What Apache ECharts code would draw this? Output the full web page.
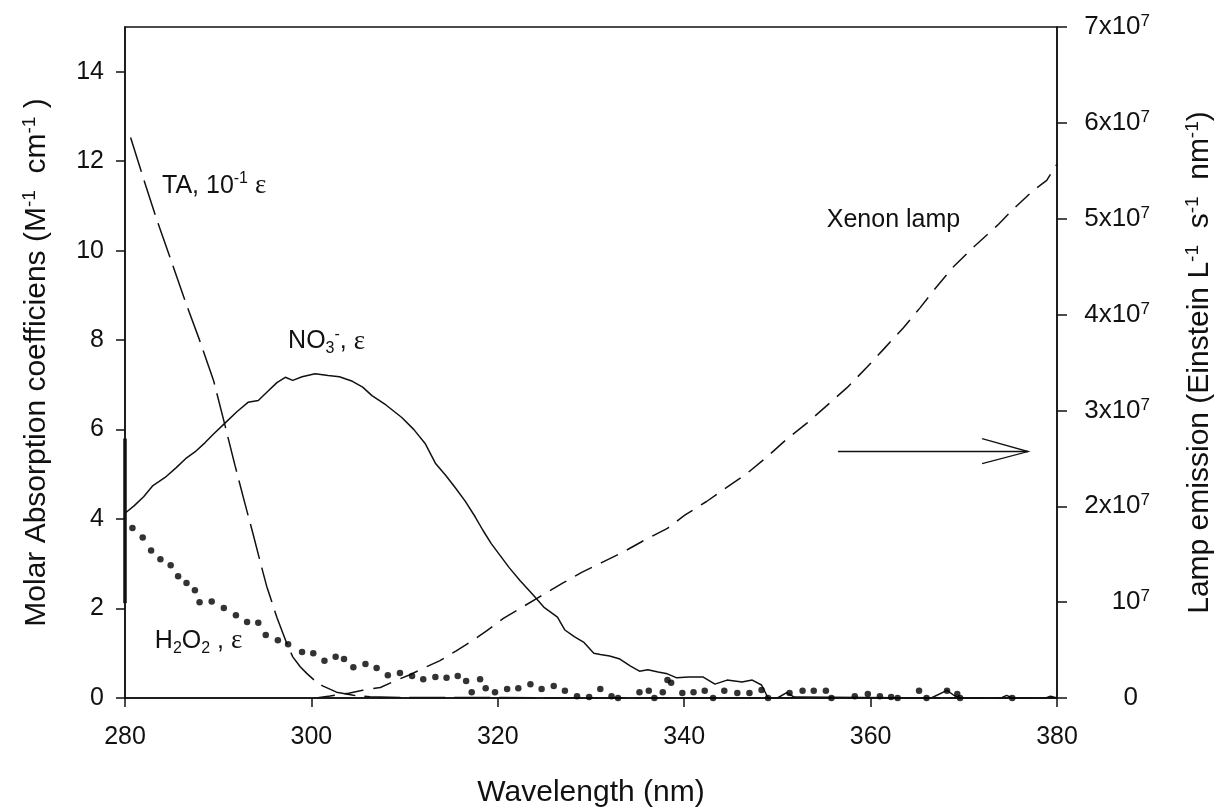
<!DOCTYPE html>
<html><head><meta charset="utf-8">
<script src="https://cdn.jsdelivr.net/npm/echarts@6/dist/echarts.min.js"></script>
<style>html,body{margin:0;padding:0;background:#fff}#c{width:1216px;height:809px}</style>
</head><body><div id="c"></div>
<script>
// ---------- data ----------
const xTicks = [280, 300, 320, 340, 360, 380];
const leftTicks = [0, 2, 4, 6, 8, 10, 12, 14];
const rightTicks = [0, 1e7, 2e7, 3e7, 4e7, 5e7, 6e7, 7e7];

// NO3- molar absorption coefficient [wavelength nm, epsilon]
const no3Points = [
  [280,4.13],[281,4.3],[282,4.5],[283,4.75],[284.3,4.93],[285.5,5.15],[286.5,5.35],[287.5,5.5],
  [288.6,5.71],[289.5,5.9],[290.7,6.14],[292,6.4],[293.2,6.61],[294.3,6.65],[295.3,6.85],[296.3,7.05],
  [297.2,7.17],[298.0,7.10],[299,7.18],[300.4,7.25],[301.8,7.21],[303,7.18],[304.4,7.08],[305.5,6.95],
  [306.5,6.76],[308,6.55],[309.7,6.27],[311,6.0],[312.2,5.69],[313.3,5.25],[314.4,4.98],[315.4,4.71],
  [316.5,4.4],[317.6,4.04],[318.4,3.75],[319.3,3.45],[320.2,3.2],[321.2,2.92],[322.4,2.62],[323.8,2.30],
  [325,2.02],[326.4,1.81],[327.2,1.52],[328.2,1.37],[329.2,1.25],[330.3,1.0],[331,0.97],[332,0.94],
  [333.1,0.87],[334.2,0.72],[335.2,0.60],[336.1,0.63],[337.2,0.58],[338.2,0.54],[339.2,0.45],[340.5,0.47],
  [342,0.47],[343.3,0.31],[344.6,0.40],[346.2,0.36],[347.3,0.40],[348.3,0.29],[349,0],[350,0],
  [351,0.12],[351.8,0.02],[366.5,0],[368.2,0.17],[369,0.05],[369.6,0],[374,0],[374.6,0.06],
  [375.2,0],[378.8,0],[379.3,0.04],[380,0]
];

// TA, 10^-1 epsilon
const taPoints = [
  [280.6,12.53],[282,11.6],[283.4,10.7],[285,9.75],[286.5,8.85],[288,8.0],[289.5,7.1],[290.6,6.2],
  [291.8,5.2],[292.8,4.4],[293.7,3.7],[294.5,3.05],[295.2,2.5],[296.3,1.8],[297.3,1.25],[298,0.92],
  [298.8,0.7],[299.5,0.55],[300.3,0.4],[301.2,0.27],[302.7,0.13],[304.5,0.06],[306.3,0.03],[310,0.01],
  [380,0]
];

// H2O2 epsilon (dots)
const h2o2Points = [
  [280.8,3.80],[281.9,3.59],[282.8,3.30],[283.8,3.10],[284.9,2.97],[285.7,2.72],[286.6,2.57],[287.5,2.41],
  [288.0,2.14],[289.3,2.16],[290.6,2.01],[291.9,1.85],[293.1,1.70],[294.3,1.68],[295.1,1.41],[296.4,1.29],
  [297.5,1.20],[299.0,1.03],[300.2,1.00],[301.4,0.83],[302.6,0.92],[303.5,0.87],[304.5,0.69],[305.8,0.76],
  [307.0,0.67],[308.2,0.51],[309.5,0.56],[310.8,0.49],[312.0,0.42],[313.3,0.47],[314.5,0.45],[315.7,0.49],
  [316.6,0.38],[317.2,0.13],[318.1,0.42],[318.7,0.22],[319.7,0.13],[321.0,0.20],[322.2,0.22],[323.5,0.31],
  [324.7,0.20],[326.0,0.27],[327.2,0.16],[328.5,0.04],[329.8,0.02],[331.0,0.20],[332.2,0.04],[332.9,0.0],
  [335.2,0.13],[336.2,0.16],[336.8,0.0],[337.7,0.13],[338.2,0.40],[338.6,0.34],[339.8,0.11],[341.0,0.13],
  [342.2,0.16],[343.1,0.0],[344.3,0.16],[345.7,0.11],[347.0,0.11],[348.3,0.18],[349.0,0.0],[351.3,0.11],
  [352.7,0.16],[353.9,0.16],[355.2,0.16],[355.8,0.0],[358.3,0.04],[359.7,0.09],[361.0,0.04],[362.2,0.02],
  [362.9,0.0],[365.2,0.16],[366.0,0.0],[368.2,0.16],[369.3,0.09],[369.6,0.0],[375.2,0.0]
];

// Xenon lamp emission (Einstein L-1 s-1 nm-1), right axis
const xenonPoints = [
  [300.5,0],[302,0.2e6],[304,0.5e6],[305.5,0.8e6],[307.4,1.1e6],[309,1.8e6],[310.5,2.4e6],[312,3.1e6],
  [313.8,3.9e6],[315.5,4.9e6],[317,5.8e6],[318.8,7.0e6],[320.6,8.3e6],[322.5,9.4e6],[324.2,10.4e6],
  [327,12.0e6],[329,13.1e6],[331.3,14.2e6],[333.4,15.2e6],[335.8,16.5e6],[338.2,17.7e6],[340.1,19.1e6],
  [342.4,20.5e6],[344.6,22.0e6],[346.7,23.4e6],[348.7,25.0e6],[351,27.0e6],[353.2,28.7e6],[355.3,30.5e6],
  [357.5,32.4e6],[359.6,34.5e6],[361.5,36.5e6],[363.5,38.6e6],[365.3,40.7e6],[367,42.8e6],[368.8,44.9e6],
  [371,47.0e6],[373.6,49.3e6],[375.3,51.0e6],[377.4,52.9e6],[378.9,54.0e6],[380,55.7e6]
];

// thick segment drawn on the left axis in the original
const leftBarPoints = [[280,2.12],[280,5.8]];

// annotation anchors (data coordinates, left axis)
const labelAnchors = {
  ta: [283.97, 11.45],
  no3: [297.5, 7.97],
  h2o2: [283.2, 1.27],
  xenon: [355.3, 10.69]
};
const arrowFrom = [356.5, 5.51];
const arrowTo = [376.9, 5.51];

// ---------- chart ----------
const FONT = 'Liberation Sans';
const SERIF = 'Liberation Serif';
const ink = '#111';

const chart = echarts.init(document.getElementById('c'), null, {renderer: 'canvas'});

const titleRich = {
  a: {fontSize: 30, fontFamily: FONT, color: ink, lineHeight: 34},
  s: {fontSize: 19, fontFamily: FONT, color: ink, verticalAlign: 'top', lineHeight: 34}
};

const option = {
  animation: false,
  backgroundColor: '#fff',
  textStyle: {fontFamily: FONT},
  grid: {left: 125, right: 159, top: 27, bottom: 111, show: true, borderColor: ink, borderWidth: 1.5,
         backgroundColor: 'transparent', containLabel: false, outerBoundsMode: 'none'},
  xAxis: {
    type: 'value', min: 280, max: 380, interval: 20,
    axisLine: {show: true, lineStyle: {color: ink, width: 1.5}},
    axisTick: {show: true, length: 9, lineStyle: {color: ink, width: 1.5}, customValues: xTicks},
    axisLabel: {fontSize: 25, color: ink, margin: 27, fontFamily: FONT, customValues: xTicks},
    splitLine: {show: false},
    name: 'Wavelength (nm)', nameLocation: 'middle', nameGap: 80,
    nameTextStyle: {fontSize: 30, color: ink, fontFamily: FONT}
  },
  yAxis: [
    {
      type: 'value', min: 0, max: 15, position: 'left',
      axisLine: {show: true, lineStyle: {color: ink, width: 1.5}},
      axisTick: {show: true, length: 9, lineStyle: {color: ink, width: 1.5}, customValues: leftTicks},
      axisLabel: {fontSize: 25, color: ink, margin: 21, fontFamily: FONT, customValues: leftTicks},
      splitLine: {show: false},
      name: '{a|Molar Absorption coefficiens (M}{s|-1}{a|  cm}{s|-1}{a| )}',
      nameLocation: 'middle', nameGap: 71, nameRotate: 90,
      nameTextStyle: {rich: titleRich}
    },
    {
      type: 'value', min: 0, max: 7e7, interval: 1e7, position: 'right',
      axisLine: {show: true, lineStyle: {color: ink, width: 1.5}},
      axisTick: {show: true, length: 10, lineStyle: {color: ink, width: 1.5}},
      axisLabel: {
        margin: 93, align: 'right', color: ink,
        formatter: function (v) {
          const n = Math.round(v / 1e7);
          if (n === 0) return '{z|0}';
          if (n === 1) return '{b|10}{s|7}';
          return '{b|' + n + 'x10}{s|7}';
        },
        rich: {
          b: {fontSize: 26, fontFamily: FONT, color: ink, lineHeight: 28},
          z: {fontSize: 26, fontFamily: FONT, color: ink, lineHeight: 28, padding: [0, 12, 0, 0]},
          s: {fontSize: 17, fontFamily: FONT, color: ink, verticalAlign: 'top', lineHeight: 28}
        }
      },
      splitLine: {show: false},
      name: '{a|Lamp emission (Einstein L}{s|-1}{a|  s}{s|-1}{a|  nm}{s|-1}{a|)}',
      nameLocation: 'middle', nameGap: 126, nameRotate: 90,
      nameTextStyle: {rich: titleRich}
    }
  ],
  series: [
    {
      name: 'NO3', type: 'line', data: no3Points, showSymbol: false, symbol: 'none',
      lineStyle: {color: ink, width: 1.5, type: 'solid'}, z: 3
    },
    {
      name: 'TA', type: 'line', data: taPoints, showSymbol: false, symbol: 'none',
      lineStyle: {color: ink, width: 1.5, type: [36, 9]}, z: 3
    },
    {
      name: 'Xenon', type: 'line', yAxisIndex: 1, data: xenonPoints, showSymbol: false, symbol: 'none',
      lineStyle: {color: ink, width: 1.5, type: [19, 10]}, z: 3
    },
    {
      name: 'H2O2', type: 'scatter', data: h2o2Points, symbol: 'circle', symbolSize: 6.5,
      itemStyle: {color: '#000'}, clip: false, z: 4
    },
    {
      name: 'bar', type: 'line', data: leftBarPoints, showSymbol: false, symbol: 'none',
      lineStyle: {color: ink, width: 3.5}, clip: false, z: 5
    }
  ]
};

chart.setOption(option);

function px(pt) { return chart.convertToPixel({xAxisIndex: 0, yAxisIndex: 0}, pt); }

const annRich = {
  a: {fontSize: 25, fontFamily: FONT, fill: ink, lineHeight: 30},
  sup: {fontSize: 16, fontFamily: FONT, fill: ink, verticalAlign: 'top', lineHeight: 30},
  sub: {fontSize: 16, fontFamily: FONT, fill: ink, verticalAlign: 'bottom', lineHeight: 30},
  e: {fontSize: 27, fontFamily: SERIF, fill: ink, lineHeight: 30}
};

function textEl(anchor, text) {
  const p = px(anchor);
  return {
    type: 'text', x: p[0], y: p[1], z: 10,
    style: {text: text, rich: annRich, align: 'left', verticalAlign: 'middle', fill: ink}
  };
}

const a0 = px(arrowFrom), a1 = px(arrowTo);
chart.setOption({
  graphic: [
    textEl(labelAnchors.ta, '{a|TA, 10}{sup|-1}{a| }{e|ε}'),
    textEl(labelAnchors.no3, '{a|NO}{sub|3}{sup|-}{a|, }{e|ε}'),
    textEl(labelAnchors.h2o2, '{a|H}{sub|2}{a|O}{sub|2}{a| , }{e|ε}'),
    textEl(labelAnchors.xenon, '{a|Xenon lamp}'),
    {type: 'polyline', z: 10, shape: {points: [a0, a1]}, style: {stroke: ink, lineWidth: 1.3, fill: null}},
    {type: 'polyline', z: 10, shape: {points: [[a1[0] - 46, a1[1] - 13], a1, [a1[0] - 46, a1[1] + 12]]}, style: {stroke: ink, lineWidth: 1.3, fill: null}}
  ]
});
</script>
</body></html>
